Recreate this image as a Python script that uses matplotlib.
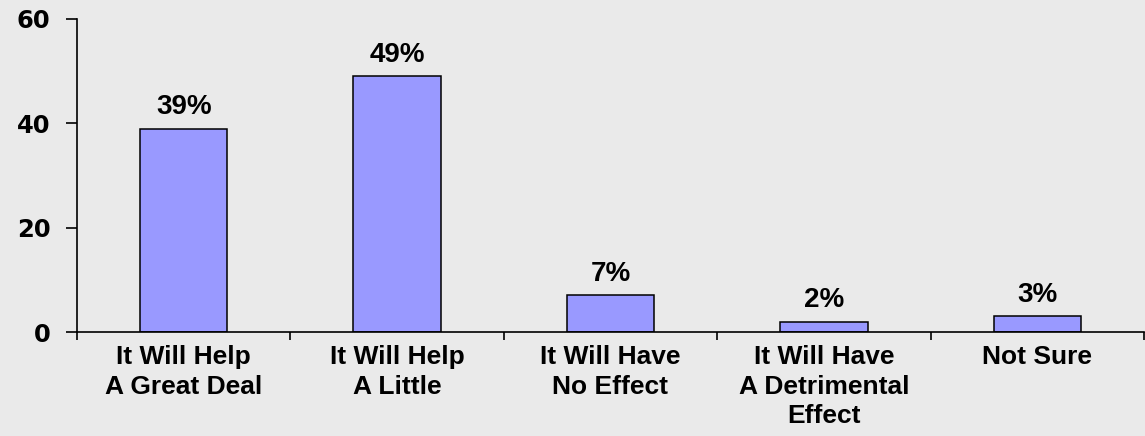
import numpy as np
import matplotlib
matplotlib.use("Agg")
import matplotlib.pyplot as plt

categories = [
    "It Will Help\nA Great Deal",
    "It Will Help\nA Little",
    "It Will Have\nNo Effect",
    "It Will Have\nA Detrimental\nEffect",
    "Not Sure",
]
values = [39, 49, 7, 2, 3]
value_labels = ["39%", "49%", "7%", "2%", "3%"]
y_ticks = [0, 20, 40, 60]

bg = "#EAEAEA"
bar_color = "#9999FF"

plt.rcParams["font.family"] = ["Liberation Sans", "DejaVu Sans"]

fig = plt.figure(figsize=(11.45, 4.36), dpi=100, facecolor=bg)
ax = fig.add_axes([77 / 1145, 1 - 332 / 436, 1067 / 1145, (332 - 19) / 436])
ax.set_facecolor(bg)

x = np.arange(len(categories))
bars = ax.bar(x, values, width=0.41, color=bar_color, edgecolor="black", linewidth=1.1)

# value labels above bars
for b, lab in zip(bars, value_labels):
    ax.annotate(lab, (b.get_x() + b.get_width() / 2, b.get_height()),
                xytext=(0, 6), textcoords="offset points",
                ha="center", va="bottom", fontsize=20, fontweight="bold")

ax.set_xlim(-0.5, len(categories) - 0.5)
ax.set_ylim(0, 60)

# tick marks at category boundaries, labels in the middle
ax.set_xticks(np.arange(len(categories) + 1) - 0.5)
ax.set_xticklabels([])
ax.set_xticks(x, minor=True)
ax.set_xticklabels(categories, minor=True, fontsize=19, fontweight="bold",
                   linespacing=1.28)
ax.tick_params(axis="x", which="major", direction="out", length=6, width=1.2)
ax.tick_params(axis="x", which="minor", length=0, pad=9.5)

ax.set_yticks(y_ticks)
ax.set_yticklabels([str(v) for v in y_ticks], family="DejaVu Sans",
                   fontsize=17.5, fontweight="bold")
ax.tick_params(axis="y", direction="out", length=8, width=1.2, pad=11)

for side in ["top", "right"]:
    ax.spines[side].set_visible(False)
for side in ["left", "bottom"]:
    ax.spines[side].set_linewidth(1.2)

fig.savefig("out.png", dpi=100, facecolor=bg)
